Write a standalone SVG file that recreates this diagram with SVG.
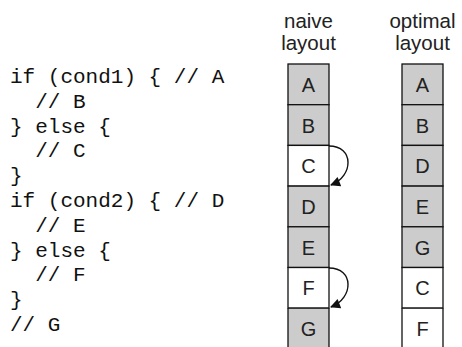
<svg xmlns="http://www.w3.org/2000/svg" width="462" height="347" viewBox="0 0 462 347">
<defs>
<style>
.code{font-family:"Liberation Mono","Courier New",monospace;font-size:21px;fill:#111;white-space:pre}
.hd{font-family:"Liberation Sans",Arial,sans-serif;font-size:20.5px;fill:#222;text-anchor:middle}
.lb{font-family:"Liberation Sans",Arial,sans-serif;font-size:20px;fill:#222;text-anchor:middle}
.g{fill:#cccccc;stroke:#111;stroke-width:1.3}
.w{fill:#ffffff;stroke:#111;stroke-width:1.3}
.arc{fill:none;stroke:#111;stroke-width:1.4}
</style>
<marker id="ah" viewBox="0 0 10 10" refX="9" refY="5" markerWidth="11" markerHeight="10" orient="auto" markerUnits="userSpaceOnUse">
<path d="M0,0 L10,5 L0,10 z" fill="#111"/>
</marker>
</defs>
<rect width="462" height="347" fill="#fff"/>
<g id="code" xml:space="preserve">
<text class="code" x="10" y="83">if (cond1) { // A</text>
<text class="code" x="10" y="107.8">  // B</text>
<text class="code" x="10" y="132.6">} else {</text>
<text class="code" x="10" y="157.4">  // C</text>
<text class="code" x="10" y="182.2">}</text>
<text class="code" x="10" y="207">if (cond2) { // D</text>
<text class="code" x="10" y="231.8">  // E</text>
<text class="code" x="10" y="256.6">} else {</text>
<text class="code" x="10" y="281.4">  // F</text>
<text class="code" x="10" y="306.2">}</text>
<text class="code" x="10" y="331">// G</text>
</g>
<g id="naive-header"><text class="hd" x="308.5" y="28">naive</text><text class="hd" x="308.5" y="50">layout</text></g>
<g id="optimal-header"><text class="hd" x="422.5" y="28">optimal</text><text class="hd" x="422.5" y="50">layout</text></g>
<g id="naive">
<g id="nA"><rect class="g" x="288" y="64" width="41" height="40.7"/><text class="lb" x="308.5" y="91.8">A</text></g>
<g id="nB"><rect class="g" x="288" y="104.7" width="41" height="40.7"/><text class="lb" x="308.5" y="132.5">B</text></g>
<g id="nC"><rect class="w" x="288" y="145.4" width="41" height="40.7"/><text class="lb" x="308.5" y="173.2">C</text></g>
<g id="nD"><rect class="g" x="288" y="186.1" width="41" height="40.7"/><text class="lb" x="308.5" y="213.9">D</text></g>
<g id="nE"><rect class="g" x="288" y="226.8" width="41" height="40.7"/><text class="lb" x="308.5" y="254.6">E</text></g>
<g id="nF"><rect class="w" x="288" y="267.5" width="41" height="40.7"/><text class="lb" x="308.5" y="295.3">F</text></g>
<g id="nG"><rect x="288" y="308.2" width="41" height="40" fill="#cccccc"/><path d="M288,308.2 H329 M288,308.2 V347 M329,308.2 V347" fill="none" stroke="#111" stroke-width="1.3"/><text class="lb" x="308.5" y="336">G</text></g>
</g>
<g id="optimal">
<g id="oA"><rect class="g" x="402" y="64" width="41" height="40.7"/><text class="lb" x="422.5" y="91.8">A</text></g>
<g id="oB"><rect class="g" x="402" y="104.7" width="41" height="40.7"/><text class="lb" x="422.5" y="132.5">B</text></g>
<g id="oD"><rect class="g" x="402" y="145.4" width="41" height="40.7"/><text class="lb" x="422.5" y="173.2">D</text></g>
<g id="oE"><rect class="g" x="402" y="186.1" width="41" height="40.7"/><text class="lb" x="422.5" y="213.9">E</text></g>
<g id="oG"><rect class="g" x="402" y="226.8" width="41" height="40.7"/><text class="lb" x="422.5" y="254.6">G</text></g>
<g id="oC"><rect class="w" x="402" y="267.5" width="41" height="40.7"/><text class="lb" x="422.5" y="295.3">C</text></g>
<g id="oF"><rect x="402" y="308.2" width="41" height="40" fill="#fff"/><path d="M402,308.2 H443 M402,308.2 V347 M443,308.2 V347" fill="none" stroke="#111" stroke-width="1.3"/><text class="lb" x="422.5" y="336">F</text></g>
</g>
<g id="connectors">
<path class="arc" d="M329,146 C354,146 354,176 331,185" marker-end="url(#ah)"/>
<path class="arc" d="M329,268 C354,268 354,298 331,307" marker-end="url(#ah)"/>
</g>
</svg>
